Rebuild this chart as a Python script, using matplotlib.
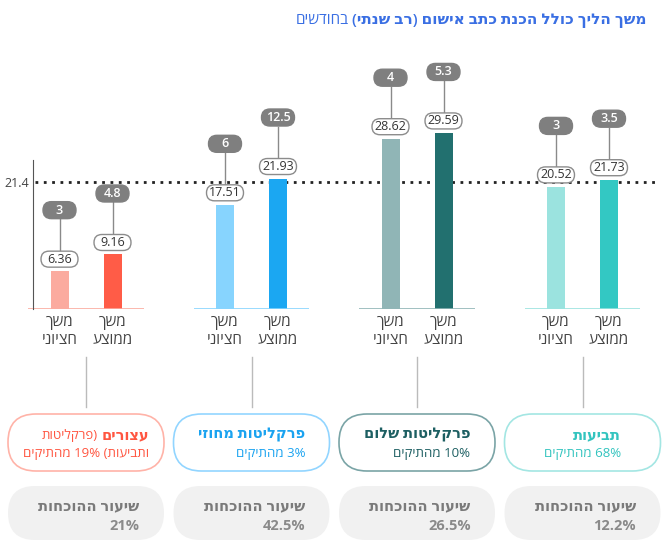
"""Average and median case duration per prosecution unit (Hebrew infographic)."""

import matplotlib
matplotlib.use("Agg")
import matplotlib.pyplot as plt
from matplotlib.patches import FancyBboxPatch
from matplotlib.transforms import ScaledTranslation

plt.rcParams["font.family"] = ["Open Sans", "DejaVu Sans"]

# data, in reading order (right to left)
groups = ["תביעות", "פרקליטות שלום", "פרקליטות מחוזי", "עצורים"]
group_inline = ["", "", "", "(פרקליטות"]
group_notes = ["68% מהתיקים", "10% מהתיקים", "3% מהתיקים", "ותביעות) 19% מהתיקים"]
median_months = [20.52, 28.62, 17.51, 6.36]
mean_months = [21.73, 29.59, 21.93, 9.16]
median_extra = ["3", "4", "6", "3"]
mean_extra = ["3.5", "5.3", "12.5", "4.8"]
conviction_rate = ["12.2%", "26.5%", "42.5%", "21%"]
overall_avg = 21.4
axis_top = 25
bar_labels = ["משך חציוני", "משך ממוצע"]
rate_label = "שיעור ההוכחות"
title = "משך הליך כולל הכנת כתב אישום (רב שנתי)"
title_unit = "בחודשים"

# styles
light = ["#9be3df", "#90b5b6", "#87d4fe", "#fbab9f"]
dark = ["#33c8c3", "#22706f", "#1ba7f2", "#ff5c47"]
text_col = ["#33c4bf", "#1d5f62", "#1aa3f0", "#ff5540"]
edge_col = ["#a3e6e3", "#7aa4a6", "#92d5ff", "#ffb3a8"]
TITLE_BLUE = "#3a6fe3"

W, H = 671, 544
BASE = 309      # baseline, pixels from top
PX = 5.95       # pixels per month
X0, GAP = 86, 165.5
OFF = 26.5 / GAP
BAR_W = 18 / GAP

MIRROR = str.maketrans("()", ")(")


def rtl(s):
    """Visual order for right-to-left text, line by line."""
    lines = []
    for line in s.split("\n"):
        out = []
        for word in reversed(line.split(" ")):
            if any("\u0590" <= c <= "\u05ff" for c in word):
                word = word[::-1].translate(MIRROR)
            out.append(word)
        lines.append(" ".join(out))
    return "\n".join(lines)


fig = plt.figure(figsize=(W / 100, H / 100), dpi=100)
fig.patch.set_facecolor("white")

lay = fig.add_axes([0, 0, 1, 1])
lay.set_xlim(0, W)
lay.set_ylim(H, 0)
lay.set_axis_off()

ax = fig.add_axes([0, (H - BASE) / H, 1, BASE / H])
ax.set_facecolor("none")
ax.set_xlim(-X0 / GAP, (W - X0) / GAP)
ax.set_ylim(0, BASE / PX)
for s in ["top", "right", "bottom"]:
    ax.spines[s].set_visible(False)
ax.spines["left"].set_position(("data", (33 - X0) / GAP))
ax.spines["left"].set_bounds(0, axis_top)
ax.spines["left"].set_color("#555555")
ax.set_yticks([overall_avg], [f"{overall_avg}"])
ax.tick_params(axis="y", length=0, pad=3, labelsize=9, labelcolor="#444444")

renderer = fig.canvas.get_renderer()


def tag(x, v, dy, w, h, text, face, edge, color, weight, size):
    tr = fig.dpi_scale_trans + ScaledTranslation(x, v, ax.transData)
    ax.add_patch(FancyBboxPatch((-w / 200, (dy - h / 2) / 100), w / 100, h / 100,
                                boxstyle=f"round,pad=0,rounding_size={h / 200}",
                                transform=tr, fc=face, ec=edge, lw=1, clip_on=False, zorder=4))
    ax.text(0, dy / 100, text, transform=tr, ha="center", va="center", color=color,
            fontsize=size, fontweight=weight, zorder=5, clip_on=False)


def connector(x, v, dy1, dy2):
    tr = fig.dpi_scale_trans + ScaledTranslation(x, v, ax.transData)
    ax.plot([0, 0], [dy1 / 100, dy2 / 100], transform=tr, color="#8a8a8a", lw=1,
            clip_on=False, zorder=3)


def width(t):
    return t.get_window_extent(renderer).width


ax.hlines(overall_avg, (35 - X0) / GAP, (658 - X0) / GAP, colors="#222222",
          linestyles=(0, (1, 2)), lw=2, zorder=1)

tick_pos, tick_lab = [], []
for i, name in enumerate(groups):
    p = len(groups) - 1 - i
    xs = [p - OFF, p + OFF]
    vals = [median_months[i], mean_months[i]]
    extras = [median_extra[i], mean_extra[i]]
    ax.bar(xs, vals, width=BAR_W, color=[light[i], dark[i]], zorder=2)
    ax.hlines(0, p - 0.35, p + 0.35, colors=light[i], lw=1.2, zorder=2)
    for x, v, e in zip(xs, vals, extras):
        connector(x, v, 20, 52)
        tag(x, v, 12, 37, 16, f"{v:.2f}", "white", "#8c8c8c", "#333333", "normal", 9)
        tag(x, v, 61, 33, 17, e, "#7f7f7f", "#7f7f7f", "white", "semibold", 9)
    tick_pos += xs
    tick_lab += [rtl(bar_labels[0].replace(" ", "\n")), rtl(bar_labels[1].replace(" ", "\n"))]

    # panels below
    cx = X0 + GAP * p
    lay.plot([cx, cx], [357, 407], color="#bbbbbb", lw=1)
    lay.add_patch(FancyBboxPatch((cx - 78, 414), 156, 57, boxstyle="round,pad=0,rounding_size=28",
                                 fc="white", ec=edge_col[i], lw=1.2))
    lay.add_patch(FancyBboxPatch((cx - 78, 486), 156, 54, boxstyle="round,pad=0,rounding_size=27",
                                 fc="#f1f1f1", ec="none"))

    # top panel: right-aligned block, centred in the pill
    t1 = lay.text(0, 435, rtl(name), ha="right", va="center", fontsize=10.5,
                  fontweight="bold", color=text_col[i])
    w1 = width(t1)
    t1b = None
    if group_inline[i]:
        t1b = lay.text(0, 435, rtl(group_inline[i]), ha="right", va="center",
                       fontsize=9.5, color=text_col[i])
        w1 += 4 + width(t1b)
    t2 = lay.text(0, 454, rtl(group_notes[i]), ha="right", va="center", fontsize=9.5,
                  color=text_col[i])
    right = cx + max(w1, width(t2)) / 2
    t1.set_x(right)
    t2.set_x(right)
    if t1b is not None:
        t1b.set_x(right - width(t1) - 4)

    # bottom panel
    b1 = lay.text(0, 506, rtl(rate_label), ha="right", va="center", fontsize=10.5,
                  fontweight="bold", color="#7a7a7a")
    b2 = lay.text(0, 526, conviction_rate[i], ha="right", va="center", fontsize=10.5,
                  fontweight="bold", color="#8a8a8a")
    right = cx + max(width(b1), width(b2)) / 2 + 3
    b1.set_x(right)
    b2.set_x(right)

ax.set_xticks(tick_pos, tick_lab)
ax.tick_params(axis="x", length=0, pad=4, labelsize=11, labelcolor="#444444")
for lab in ax.get_xticklabels():
    lab.set_linespacing(1.3)

t = lay.text(647, 21, rtl(title), ha="right", va="center", fontsize=11,
             fontweight="semibold", color=TITLE_BLUE)
lay.text(647 - width(t) - 4, 21, rtl(title_unit), ha="right", va="center", fontsize=11,
         color=TITLE_BLUE)

fig.savefig("out.png", dpi=100, facecolor="white")
